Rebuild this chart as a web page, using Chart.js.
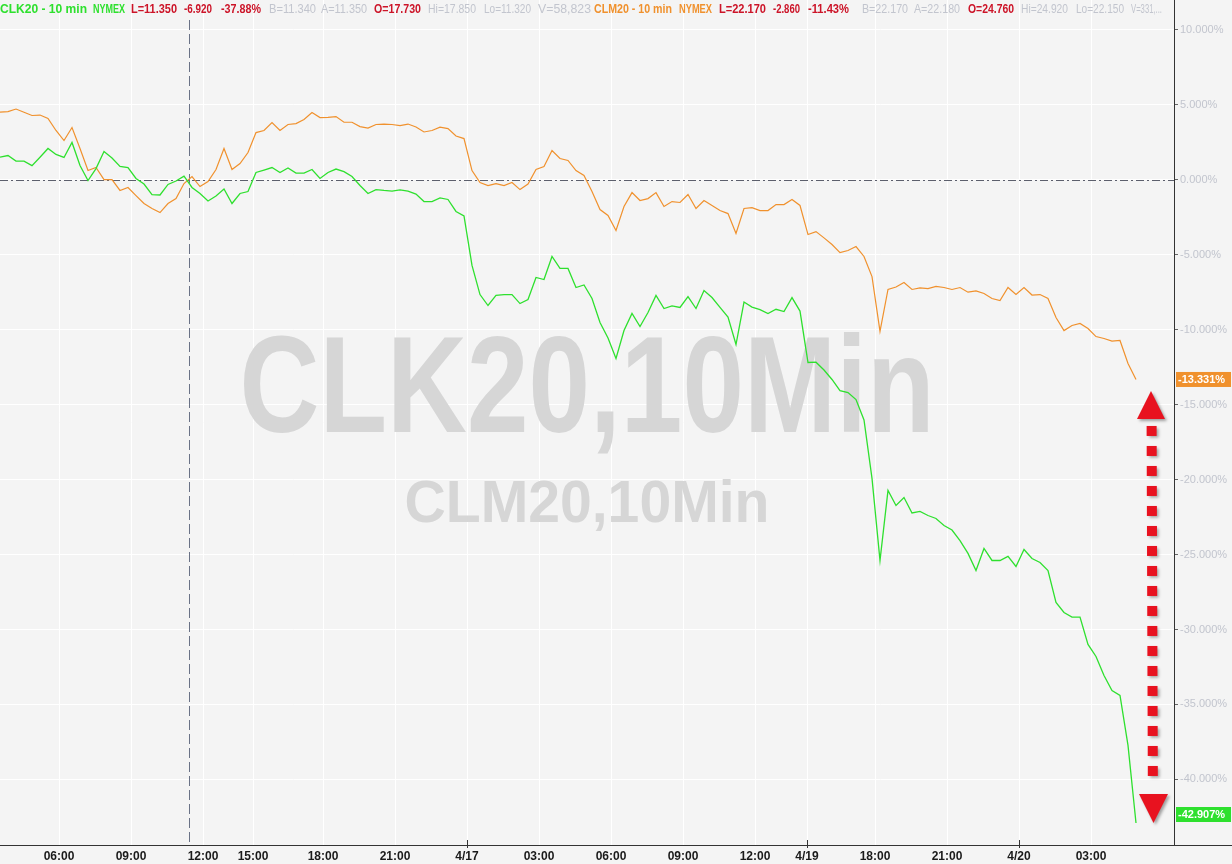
<!DOCTYPE html>
<html>
<head>
<meta charset="utf-8">
<script src="https://cdn.jsdelivr.net/npm/chart.js@4.4.0/dist/chart.umd.min.js"></script>
<style>
  html, body { margin: 0; padding: 0; background: #f4f4f4; }
  canvas { display: block; }
</style>
</head>
<body>
<canvas id="chart" width="1232" height="864"></canvas>
<script>
// % change, one reading every 20 min (every 2nd 10-min bar)
const clk = [
  1.49, 1.60, 1.23, 1.23, 0.93, 1.49, 2.07, 1.67, 1.47, 2.47,
  0.93, -0.07, 0.73, 1.87, 1.43, 0.87, 0.80, 0.07, -0.30, -1.00,
  -1.03, -0.33, -0.10, 0.23, -0.53, -0.93, -1.43, -1.10, -0.63, -1.60,
  -0.93, -0.80, 0.47, 0.63, 0.80, 0.47, 0.77, 0.43, 0.43, 0.67,
  0.07, 0.47, 0.70, 0.53, 0.20, -0.40, -0.93, -0.67, -0.73, -0.77,
  -0.69, -0.78, -0.97, -1.47, -1.47, -1.23, -1.33, -2.13, -2.43, -5.73,
  -7.67, -8.40, -7.73, -7.67, -7.67, -8.27, -8.00, -6.53, -6.67, -5.13,
  -5.93, -5.93, -7.20, -7.03, -7.93, -9.53, -10.57, -11.93, -10.07, -8.93,
  -9.80, -8.87, -7.73, -8.60, -8.43, -8.53, -7.80, -8.60, -7.40, -7.87,
  -8.53, -9.17, -11.00, -8.17, -8.51, -8.67, -8.93, -8.65, -8.80, -7.87,
  -8.77, -12.20, -12.18, -12.70, -13.33, -14.07, -14.20, -14.67, -16.03, -19.93,
  -25.40, -20.73, -21.73, -21.20, -22.23, -22.13, -22.40, -22.60, -23.07, -23.37,
  -24.07, -24.93, -26.07, -24.60, -25.40, -25.40, -25.13, -25.80, -24.67, -25.27,
  -25.53, -26.07, -28.20, -28.87, -29.17, -29.18, -31.00, -31.80, -33.07, -34.07,
  -34.40, -37.73, -42.907
];
const clm = [
  4.49, 4.53, 4.70, 4.49, 4.27, 4.30, 4.07, 3.27, 2.60, 3.47,
  2.07, 0.60, 0.80, 0.00, 0.00, -0.73, -0.53, -1.07, -1.60, -1.93,
  -2.20, -1.60, -1.27, -0.27, 0.20, -0.47, -0.13, 0.67, 2.07, 0.67,
  1.07, 1.80, 3.13, 3.27, 3.80, 3.27, 3.67, 3.73, 4.00, 4.47,
  4.13, 4.15, 4.20, 3.82, 3.82, 3.53, 3.43, 3.67, 3.70, 3.67,
  3.60, 3.70, 3.50, 3.17, 3.27, 3.49, 3.40, 2.90, 2.73, 0.60,
  -0.20, -0.40, -0.27, -0.40, -0.20, -0.67, -0.30, 0.67, 0.87, 1.93,
  1.40, 1.27, 0.60, 0.27, -0.80, -2.00, -2.40, -3.40, -1.80, -0.87,
  -1.40, -1.27, -0.87, -1.80, -1.47, -1.53, -1.00, -1.93, -1.40, -1.73,
  -2.07, -2.27, -3.60, -1.93, -1.87, -2.07, -2.07, -1.67, -1.67, -1.33,
  -1.73, -3.67, -3.47, -3.89, -4.33, -4.87, -4.73, -4.47, -5.13, -6.47,
  -10.13, -7.33, -7.17, -6.87, -7.33, -7.23, -7.27, -7.13, -7.20, -7.33,
  -7.20, -7.51, -7.43, -7.60, -7.93, -8.07, -7.20, -7.67, -7.20, -7.70,
  -7.67, -7.93, -9.20, -10.07, -9.73, -9.60, -9.93, -10.47, -10.60, -10.77,
  -10.73, -12.27, -13.331
];

// time axis (same 20-min units as the series)
const xTickPos = [7.375, 16.375, 25.375, 31.625, 40.375, 49.375, 58.375, 67.375,
  76.375, 85.375, 94.375, 100.875, 109.375, 118.375, 127.375, 136.375];
const xTickText = ['06:00', '09:00', '12:00', '15:00', '18:00', '21:00', '4/17', '03:00',
  '06:00', '09:00', '12:00', '4/19', '18:00', '21:00', '4/20', '03:00'];
const yTicks = [10, 5, 0, -5, -10, -15, -20, -25, -30, -35, -40];
const crossAt = 23.625;

const GREEN = '#2ee02e';
const ORANGE = '#f0912d';
const RED = '#cc1428';
const GREY = '#c2c5ce';

// quote strip: text, colour, bold, from x, to x
const header = [
  ['CLK20 - 10 min', GREEN, 1, 0, 87], ['NYMEX', GREEN, 1, 93, 125],
  ['L=11.350', RED, 1, 131, 177], ['-6.920', RED, 1, 184, 212], ['-37.88%', RED, 1, 221, 261],
  ['B=11.340', GREY, 0, 269, 316], ['A=11.350', GREY, 0, 321, 367],
  ['O=17.730', RED, 1, 374, 421], ['Hi=17.850', GREY, 0, 428, 476],
  ['Lo=11.320', GREY, 0, 484, 531], ['V=58,823', GREY, 0, 538, 591],
  ['CLM20 - 10 min', ORANGE, 1, 594, 672], ['NYMEX', ORANGE, 1, 679, 712],
  ['L=22.170', RED, 1, 719, 766], ['-2.860', RED, 1, 773, 800], ['-11.43%', RED, 1, 808, 849],
  ['B=22.170', GREY, 0, 862, 908], ['A=22.180', GREY, 0, 914, 960],
  ['O=24.760', RED, 1, 968, 1014], ['Hi=24.920', GREY, 0, 1021, 1068],
  ['Lo=22.150', GREY, 0, 1076, 1124], ['V=331,...', GREY, 0, 1131, 1162]
];

const FONT = '"Liberation Sans", Arial, sans-serif';

const decor = {
  id: 'decor',
  beforeDraw(chart) {
    const ctx = chart.ctx;
    ctx.save();
    ctx.fillStyle = '#f4f4f4';
    ctx.fillRect(0, 0, chart.width, chart.height);
    ctx.restore();
  },
  beforeDatasetsDraw(chart) {
    const { ctx, chartArea: a, scales: { x, y } } = chart;
    ctx.save();
    // watermark
    ctx.fillStyle = '#d6d6d6';
    ctx.textBaseline = 'alphabetic';
    const marks = [['CLK20,10Min', 138, 695, 432], ['CLM20,10Min', 60, 365, 522]];
    marks.forEach(([t, size, w, base]) => {
      ctx.font = 'bold ' + size + 'px ' + FONT;
      const mw = ctx.measureText(t).width;
      ctx.save();
      ctx.translate((a.left + a.right) / 2, base);
      ctx.scale(w / mw, 1);
      ctx.textAlign = 'center';
      ctx.fillText(t, 0, 0);
      ctx.restore();
    });
    // zero line
    const y0 = Math.round(y.getPixelForValue(0)) + 0.5;
    ctx.strokeStyle = '#5c5f6c';
    ctx.lineWidth = 1;
    ctx.setLineDash([8, 3, 2, 3]);
    ctx.beginPath();
    ctx.moveTo(a.left, y0);
    ctx.lineTo(a.right, y0);
    ctx.stroke();
    // crosshair
    const xc = Math.round(x.getPixelForValue(crossAt)) + 0.5;
    ctx.strokeStyle = '#6a7286';
    ctx.setLineDash([10, 4]);
    ctx.beginPath();
    ctx.moveTo(xc, 20);
    ctx.lineTo(xc, a.bottom);
    ctx.stroke();
    ctx.restore();
  },
  afterDraw(chart) {
    const { ctx, chartArea: a, scales: { x, y } } = chart;
    ctx.save();
    // bottom axis line
    ctx.strokeStyle = '#333';
    ctx.lineWidth = 1;
    ctx.beginPath();
    ctx.moveTo(0, a.bottom + 0.5);
    ctx.lineTo(chart.width, a.bottom + 0.5);
    ctx.stroke();
    // day separators
    xTickText.forEach((t, i) => {
      if (t.indexOf('/') < 0) return;
      const px = Math.round(x.getPixelForValue(xTickPos[i])) + 0.5;
      ctx.beginPath();
      ctx.moveTo(px, a.bottom - 5);
      ctx.lineTo(px, a.bottom + 3);
      ctx.stroke();
    });

    // quote strip
    ctx.textBaseline = 'alphabetic';
    header.forEach(([t, c, b, x0, x1]) => {
      ctx.font = (b ? 'bold ' : '') + '12px ' + FONT;
      const mw = ctx.measureText(t).width;
      ctx.save();
      ctx.translate(x0, 13);
      ctx.scale((x1 - x0) / mw, 1);
      ctx.fillStyle = c;
      ctx.fillText(t, 0, 0);
      ctx.restore();
    });

    // last value labels
    const tag = (val, color, cy) => {
      ctx.fillStyle = color;
      ctx.fillRect(a.right + 2, cy - 7.5, 55, 15);
      ctx.fillStyle = '#ffffff';
      ctx.font = 'bold 11px ' + FONT;
      ctx.textBaseline = 'middle';
      ctx.fillText(val.toFixed(3) + '%', a.right + 4, cy + 0.5);
    };
    const lastM = clm[clm.length - 1];
    const lastK = clk[clk.length - 1];
    tag(lastM, ORANGE, y.getPixelForValue(lastM));
    tag(lastK, GREEN, Math.min(y.getPixelForValue(lastK), a.bottom - 30.5));

    // red double arrow
    const top = y.getPixelForValue(lastM) + 11.5;
    const bot = y.getPixelForValue(lastK);
    ctx.fillStyle = '#e8121f';
    ctx.shadowColor = 'rgba(0,0,0,0.35)';
    ctx.shadowBlur = 3;
    ctx.shadowOffsetX = 2;
    ctx.shadowOffsetY = 2;
    ctx.beginPath();
    ctx.moveTo(1151, top);
    ctx.lineTo(1165, top + 28);
    ctx.lineTo(1137, top + 28);
    ctx.closePath();
    ctx.fill();
    for (let sy = top + 35; sy + 10 <= bot - 45; sy += 20) {
      const cx = 1151.5 + (sy - top) / (bot - top) * 1.5;
      ctx.fillRect(cx - 5, sy, 10, 10);
    }
    ctx.beginPath();
    ctx.moveTo(1139, bot - 29);
    ctx.lineTo(1168, bot - 29);
    ctx.lineTo(1153.5, bot);
    ctx.closePath();
    ctx.fill();
    ctx.restore();
  }
};

new Chart(document.getElementById('chart'), {
  type: 'line',
  data: {
    datasets: [
      {
        label: 'CLK20',
        data: clk.map((v, i) => ({ x: i, y: v })),
        borderColor: GREEN,
        borderWidth: 1.3,
        pointRadius: 0,
        tension: 0
      },
      {
        label: 'CLM20',
        data: clm.map((v, i) => ({ x: i, y: v })),
        borderColor: ORANGE,
        borderWidth: 1.2,
        pointRadius: 0,
        tension: 0
      }
    ]
  },
  options: {
    responsive: false,
    animation: false,
    devicePixelRatio: 1,
    layout: { padding: 0 },
    plugins: { legend: { display: false }, tooltip: { enabled: false } },
    scales: {
      x: {
        type: 'linear',
        min: 0,
        max: 146.75,
        afterBuildTicks: s => { s.ticks = xTickPos.map(v => ({ value: v })); },
        afterFit: s => { s.height = 19; s.paddingLeft = 0; s.paddingRight = 0; },
        grid: { color: '#ffffff', lineWidth: 1, drawTicks: false },
        border: { display: false },
        ticks: {
          autoSkip: false,
          maxRotation: 0,
          padding: 4,
          color: '#1a1a1a',
          font: { family: FONT, size: 12, weight: 'bold' },
          callback: (v, i) => xTickText[i]
        }
      },
      y: {
        position: 'right',
        min: -44.37,
        max: 11.97,
        afterBuildTicks: s => { s.ticks = yTicks.map(v => ({ value: v })); },
        afterFit: s => { s.width = 58; s.paddingTop = 0; s.paddingBottom = 0; },
        grid: { color: '#ffffff', lineWidth: 1, tickColor: '#666', tickLength: 4 },
        border: { display: true, color: '#333', width: 1 },
        ticks: {
          padding: 2,
          color: GREY,
          font: { family: FONT, size: 11 },
          callback: v => v.toFixed(3) + '%'
        }
      }
    }
  },
  plugins: [decor]
});
</script>
</body>
</html>
